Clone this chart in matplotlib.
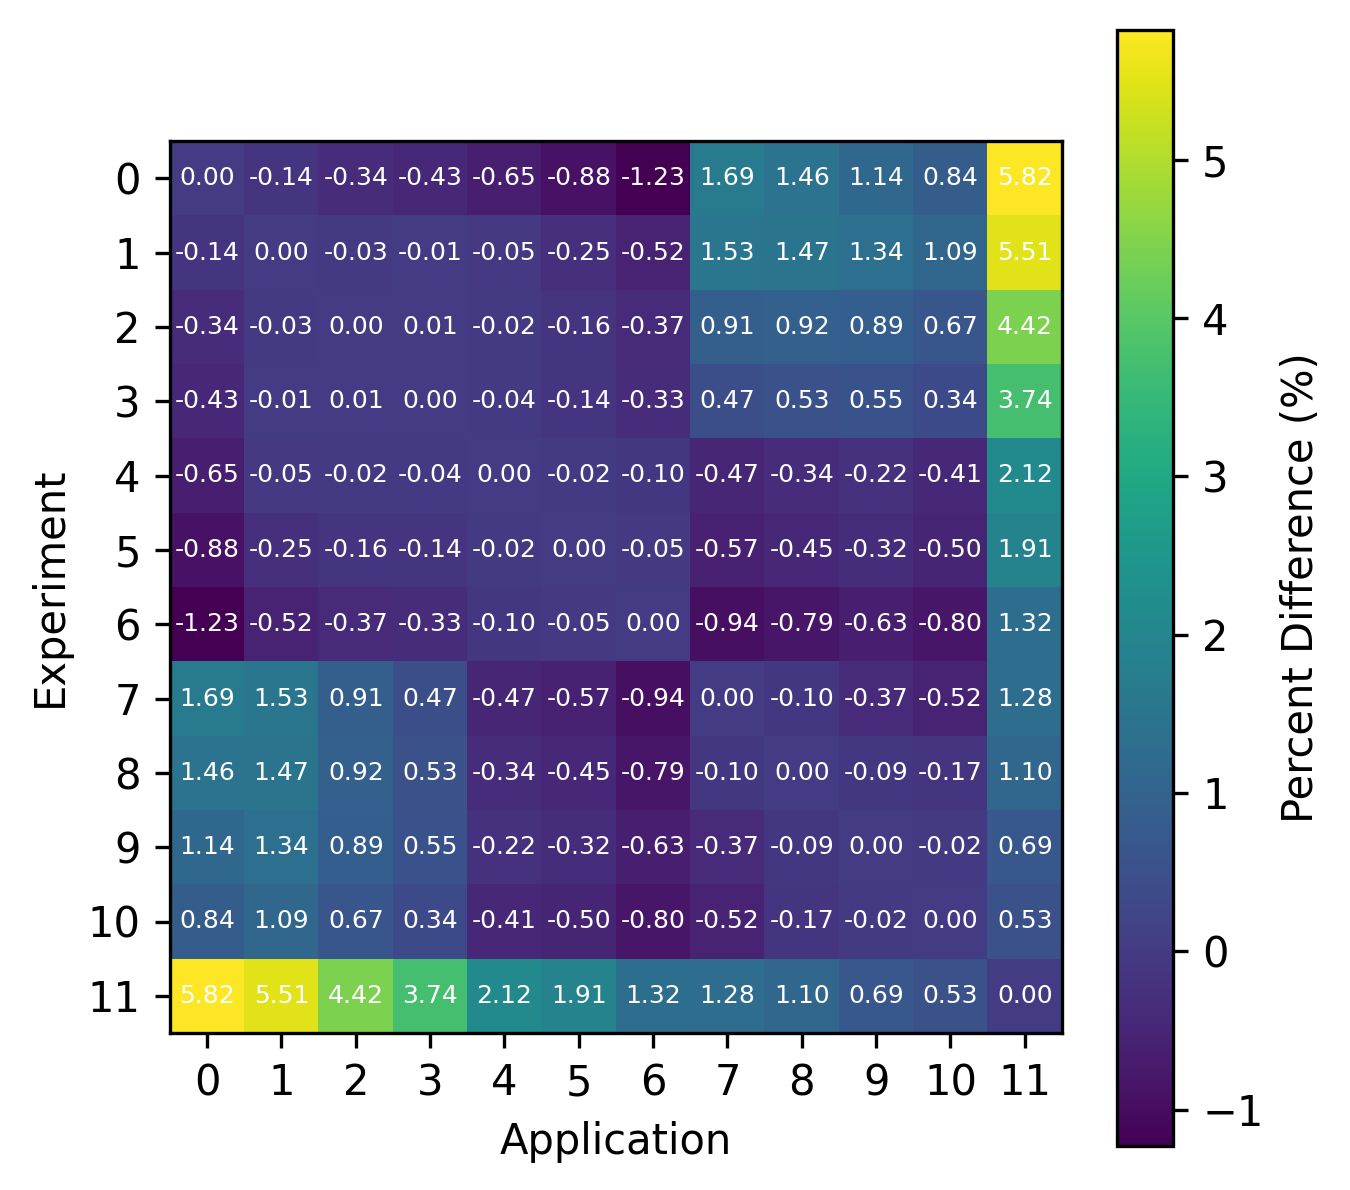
import numpy as np
import matplotlib
matplotlib.use("Agg")
import matplotlib.pyplot as plt

labels = [str(i) for i in range(12)]
row0 = [0.00, -0.14, -0.34, -0.43, -0.65, -0.88, -1.23, 1.69, 1.46, 1.14, 0.84, 5.82]
row1 = [-0.14, 0.00, -0.03, -0.01, -0.05, -0.25, -0.52, 1.53, 1.47, 1.34, 1.09, 5.51]
row2 = [-0.34, -0.03, 0.00, 0.01, -0.02, -0.16, -0.37, 0.91, 0.92, 0.89, 0.67, 4.42]
row3 = [-0.43, -0.01, 0.01, 0.00, -0.04, -0.14, -0.33, 0.47, 0.53, 0.55, 0.34, 3.74]
row4 = [-0.65, -0.05, -0.02, -0.04, 0.00, -0.02, -0.10, -0.47, -0.34, -0.22, -0.41, 2.12]
row5 = [-0.88, -0.25, -0.16, -0.14, -0.02, 0.00, -0.05, -0.57, -0.45, -0.32, -0.50, 1.91]
row6 = [-1.23, -0.52, -0.37, -0.33, -0.10, -0.05, 0.00, -0.94, -0.79, -0.63, -0.80, 1.32]
row7 = [1.69, 1.53, 0.91, 0.47, -0.47, -0.57, -0.94, 0.00, -0.10, -0.37, -0.52, 1.28]
row8 = [1.46, 1.47, 0.92, 0.53, -0.34, -0.45, -0.79, -0.10, 0.00, -0.09, -0.17, 1.10]
row9 = [1.14, 1.34, 0.89, 0.55, -0.22, -0.32, -0.63, -0.37, -0.09, 0.00, -0.02, 0.69]
row10 = [0.84, 1.09, 0.67, 0.34, -0.41, -0.50, -0.80, -0.52, -0.17, -0.02, 0.00, 0.53]
row11 = [5.82, 5.51, 4.42, 3.74, 2.12, 1.91, 1.32, 1.28, 1.10, 0.69, 0.53, 0.00]

data = np.array([row0, row1, row2, row3, row4, row5, row6, row7, row8, row9, row10, row11])

fig = plt.figure(figsize=(4.5, 1190 / 300), dpi=300)
ax = fig.add_axes([170 / 1350, 1 - 1033 / 1190, 892 / 1350, 892 / 1190])
cax = fig.add_axes([1117 / 1350, 1 - 1146 / 1190, 56 / 1350, 1116 / 1190])

im = ax.imshow(data, cmap="viridis", aspect="auto")
for i in range(data.shape[0]):
    for j in range(data.shape[1]):
        ax.text(j, i, f"{data[i, j]:.2f}", ha="center", va="center",
                color="white", fontsize=6)

ax.set_xticks(range(len(labels)))
ax.set_xticklabels(labels)
ax.set_yticks(range(len(labels)))
ax.set_yticklabels(labels)
ax.set_xlabel("Application")
ax.set_ylabel("Experiment")

cb = fig.colorbar(im, cax=cax)
cb.set_label("Percent Difference (%)")

fig.savefig("out.png", dpi=300)
